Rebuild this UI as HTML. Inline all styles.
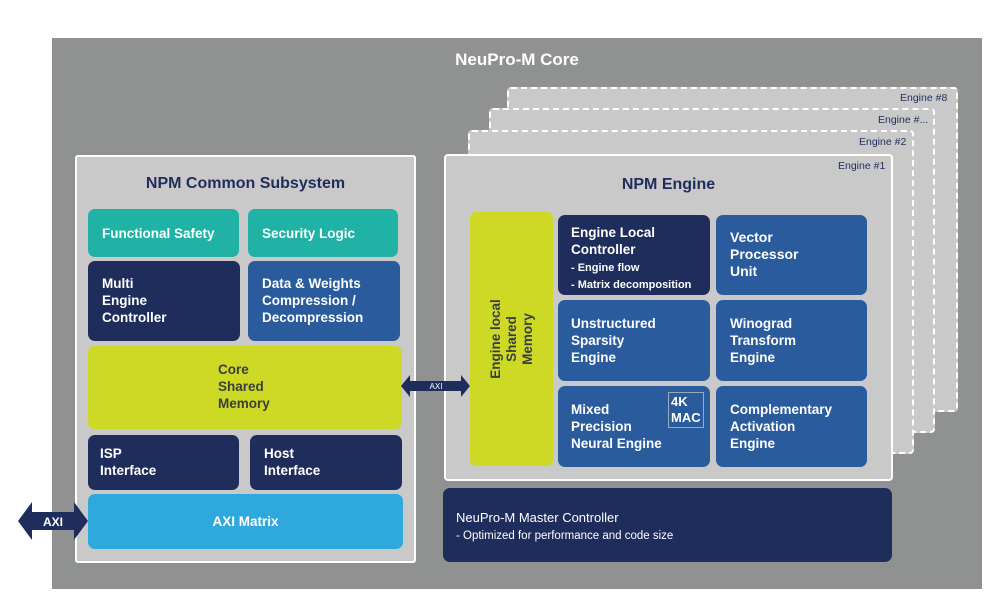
<!DOCTYPE html>
<html><head><style>
body{margin:0;width:1000px;height:605px;background:#fff;position:relative;overflow:hidden;font-family:"Liberation Sans",sans-serif;}
div{position:absolute;box-sizing:border-box;}
.core{left:52px;top:38px;width:930px;height:551px;background:#8f9290;}
.eng{background:#c9c9c9;border:2px dashed #fff;border-radius:4px;}
.lbl{font-size:10.5px;color:#1f2d5c;}
.b{border-radius:7px;color:#fff;font-weight:bold;font-size:13.5px;line-height:17px;padding:13px 14px;}
.navy{background:#1f2d5c}.blue{background:#2a5b9c}.teal{background:#20b3a5}.lime{background:#cdd925;color:#3a3f3a}
</style></head><body>
<div class="core"></div>
<div style="left:0;top:50px;width:1034px;text-align:center;color:#fff;font-weight:bold;font-size:17px;">NeuPro-M Core</div>

<div class="eng" style="left:507px;top:87px;width:451px;height:325px;"></div>
<div class="eng" style="left:489px;top:108px;width:446px;height:325px;"></div>
<div class="eng" style="left:468px;top:130px;width:446px;height:324px;"></div>
<div style="left:444px;top:154px;width:449px;height:327px;background:#c9c9c9;border:2px solid #fff;border-radius:4px;"></div>
<div class="lbl" style="left:900px;top:92px;">Engine #8</div>
<div class="lbl" style="left:878px;top:114px;">Engine #...</div>
<div class="lbl" style="left:859px;top:136px;">Engine #2</div>
<div class="lbl" style="left:838px;top:160px;">Engine #1</div>
<div style="left:444px;top:176px;width:449px;text-align:center;color:#1f2d5c;font-weight:bold;font-size:16px;">NPM Engine</div>

<div class="lime" style="left:470px;top:212px;width:83px;height:254px;border-radius:6px;"></div>
<div style="left:470px;top:212px;width:83px;height:254px;display:flex;align-items:center;justify-content:center;">
<div style="position:static;transform:rotate(-90deg);white-space:nowrap;color:#3a3f3a;font-weight:bold;font-size:13.5px;line-height:16px;text-align:center;">Engine local<br>Shared<br>Memory</div></div>

<div class="b navy" style="left:558px;top:215px;width:152px;height:80px;padding:9px 13px;">Engine Local<br>Controller<br><span style="font-size:11px;line-height:14px;">- Engine flow<br>- Matrix decomposition</span></div>
<div class="b blue" style="left:716px;top:215px;width:151px;height:80px;padding:14px 14px;font-size:14px;">Vector<br>Processor<br>Unit</div>
<div class="b blue" style="left:558px;top:300px;width:152px;height:81px;padding:15px 13px;">Unstructured<br>Sparsity<br>Engine</div>
<div class="b blue" style="left:716px;top:300px;width:151px;height:81px;padding:15px 14px;">Winograd<br>Transform<br>Engine</div>
<div class="b blue" style="left:558px;top:386px;width:152px;height:81px;padding:15px 13px;">Mixed<br>Precision<br>Neural Engine</div>
<div style="left:668px;top:392px;width:36px;height:36px;border:1px solid #9ab;color:#fff;font-weight:bold;font-size:13px;line-height:16px;padding:1px 2px;">4K<br>MAC</div>
<div class="b blue" style="left:716px;top:386px;width:151px;height:81px;padding:15px 14px;">Complementary<br>Activation<br>Engine</div>

<div class="b navy" style="left:443px;top:488px;width:449px;height:74px;padding:21px 13px;line-height:17px;font-weight:normal;font-size:13px;">NeuPro-M Master Controller<br><span style="font-size:11.5px">- Optimized for performance and code size</span></div>

<div style="left:75px;top:155px;width:341px;height:408px;background:#c9c9c9;border:2px solid #fff;border-radius:3px;"></div>
<div style="left:75px;top:175px;width:341px;text-align:center;color:#1f2d5c;font-weight:bold;font-size:16px;">NPM Common Subsystem</div>
<div class="b teal" style="left:88px;top:209px;width:151px;height:48px;padding-top:16px;">Functional Safety</div>
<div class="b teal" style="left:248px;top:209px;width:150px;height:48px;padding-top:16px;">Security Logic</div>
<div class="b navy" style="left:88px;top:261px;width:152px;height:80px;padding:14px 14px;">Multi<br>Engine<br>Controller</div>
<div class="b blue" style="left:248px;top:261px;width:152px;height:80px;padding:14px 14px;">Data &amp; Weights<br>Compression /<br>Decompression</div>
<div class="b lime" style="left:88px;top:346px;width:314px;height:83px;padding:15px 0 0 130px;">Core<br>Shared<br>Memory</div>
<div class="b navy" style="left:88px;top:435px;width:151px;height:55px;padding:10px 12px;">ISP<br>Interface</div>
<div class="b navy" style="left:250px;top:435px;width:152px;height:55px;padding:10px 14px;">Host<br>Interface</div>
<div class="b" style="left:88px;top:494px;width:315px;height:55px;background:#2fa8dd;text-align:center;padding:19px 0;">AXI Matrix</div>

<svg style="position:absolute;left:0;top:0" width="1000" height="605">
<polygon points="18,521 32,502 32,512 74,512 74,502 88,521 74,540 74,530 32,530 32,540" fill="#1f2d5c"/>
<polygon points="401,386 410,375 410,381 461,381 461,375 470,386 461,397 461,391 410,391 410,397" fill="#1f2d5c"/>
<text x="53" y="526" fill="#fff" font-family="Liberation Sans" font-weight="bold" font-size="12" text-anchor="middle">AXI</text>
<text x="436" y="389" fill="#fff" font-family="Liberation Sans" font-size="8" text-anchor="middle">AXI</text>
</svg>
</body></html>
